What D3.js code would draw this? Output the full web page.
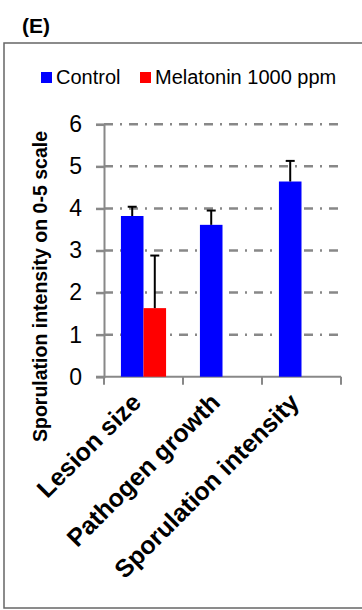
<!DOCTYPE html>
<html>
<head>
<meta charset="utf-8">
<script src="https://cdn.jsdelivr.net/npm/d3@7"></script>
<style>
  body { margin: 0; background: #fff; }
  text { font-family: "Liberation Sans", Arial, sans-serif; }
</style>
</head>
<body>
<script>
// chart data
var categories = ["Lesion size", "Pathogen growth", "Sporulation intensity"];
var seriesNames = ["Control", "Melatonin 1000 ppm"];
var seriesColors = ["#0000ff", "#ff0000"];
var controlValues = [3.82, 3.61, 4.64];
var controlErrors = [0.22, 0.34, 0.49];
var melatoninValues = [1.63, null, null];
var melatoninErrors = [1.25, null, null];
var yTicks = [0, 1, 2, 3, 4, 5, 6];

var width = 362, height = 610;
var svg = d3.select("body").append("svg").attr("width", width).attr("height", height);

// frame
svg.append("rect").attr("x", 4).attr("y", 43).attr("width", 400).attr("height", 565)
    .attr("fill", "none").attr("stroke", "#666").attr("stroke-width", 1.5);

svg.append("text").attr("x", 22).attr("y", 33).text("(E)")
    .style("font-size", "21px").style("font-weight", "bold");

// legend
var legendX = [41, 140];
seriesNames.forEach(function(name, i){
    svg.append("rect").attr("x", legendX[i]).attr("y", 72).attr("width", 11).attr("height", 11)
        .attr("fill", seriesColors[i]);
    svg.append("text").attr("x", legendX[i] + 15).attr("y", 83.5).text(name)
        .style("font-size", "20px");
});

var y = d3.scaleLinear().domain([0, 6]).range([376.7, 124.3]);
var x = d3.scaleBand().domain(categories).range([104, 341]);
var x1 = d3.scaleBand().domain(seriesNames).range([0, x.bandwidth()]).paddingOuter(0.75);

// gridlines
svg.append("g").selectAll("line").data(yTicks.slice(1)).enter().append("line")
    .attr("x1", 104).attr("x2", 341)
    .attr("y1", function(d){ return y(d); }).attr("y2", function(d){ return y(d); })
    .attr("stroke", "#888").attr("stroke-width", 2.5)
    .attr("stroke-dasharray", "9,7,2,7");

// y axis
var yAxis = svg.append("g").attr("transform", "translate(104,0)")
    .call(d3.axisLeft(y).tickValues(yTicks).tickSize(8).tickPadding(14).tickFormat(d3.format("d")));
yAxis.select(".domain").attr("stroke", "#888").attr("stroke-width", 2);
yAxis.selectAll(".tick line").attr("stroke", "#888").attr("stroke-width", 2.5);
yAxis.selectAll(".tick text").style("font-size", "23px").attr("fill", "#000")
    .style("font-family", "Liberation Sans, Arial, sans-serif");

// x axis line + ticks at band edges
svg.append("line").attr("x1", 96).attr("x2", 341).attr("y1", y(0)).attr("y2", y(0))
    .attr("stroke", "#888").attr("stroke-width", 2);
var edges = categories.map(function(c){ return x(c); }).concat([x(categories[categories.length - 1]) + x.bandwidth()]);
svg.append("g").selectAll("line").data(edges).enter().append("line")
    .attr("x1", function(d){ return d; }).attr("x2", function(d){ return d; })
    .attr("y1", y(0)).attr("y2", y(0) + 8)
    .attr("stroke", "#888").attr("stroke-width", 2);

// bars
var rows = [];
categories.forEach(function(c, i){
    rows.push({cat: c, s: 0, v: controlValues[i], e: controlErrors[i]});
    if (melatoninValues[i] != null) rows.push({cat: c, s: 1, v: melatoninValues[i], e: melatoninErrors[i]});
});

svg.append("g").selectAll("rect").data(rows).enter().append("rect")
    .attr("x", function(d){ return x(d.cat) + x1(seriesNames[d.s]); })
    .attr("y", function(d){ return y(d.v); })
    .attr("width", x1.bandwidth())
    .attr("height", function(d){ return y(0) - y(d.v); })
    .attr("fill", function(d){ return seriesColors[d.s]; });

// error bars
var err = svg.append("g").attr("stroke", "#000").attr("stroke-width", 2);
rows.forEach(function(d){
    var cx = x(d.cat) + x1(seriesNames[d.s]) + x1.bandwidth() / 2;
    err.append("line").attr("x1", cx).attr("x2", cx).attr("y1", y(d.v)).attr("y2", y(d.v + d.e));
    err.append("line").attr("x1", cx - 4.5).attr("x2", cx + 4.5).attr("y1", y(d.v + d.e)).attr("y2", y(d.v + d.e));
});

// x labels
svg.append("g").selectAll("text").data(categories).enter().append("text")
    .attr("transform", function(d){ return "translate(" + (x(d) + x.bandwidth() / 2 - 1) + ",404) rotate(-45)"; })
    .attr("text-anchor", "end")
    .style("font-size", "25px").style("font-weight", "bold")
    .text(function(d){ return d; });

// y label
svg.append("text").attr("transform", "translate(47,286.5) rotate(-90)")
    .attr("text-anchor", "middle")
    .style("font-size", "19.5px").style("font-weight", "bold")
    .text("Sporulation intensity on 0-5 scale");
</script>
</body>
</html>
